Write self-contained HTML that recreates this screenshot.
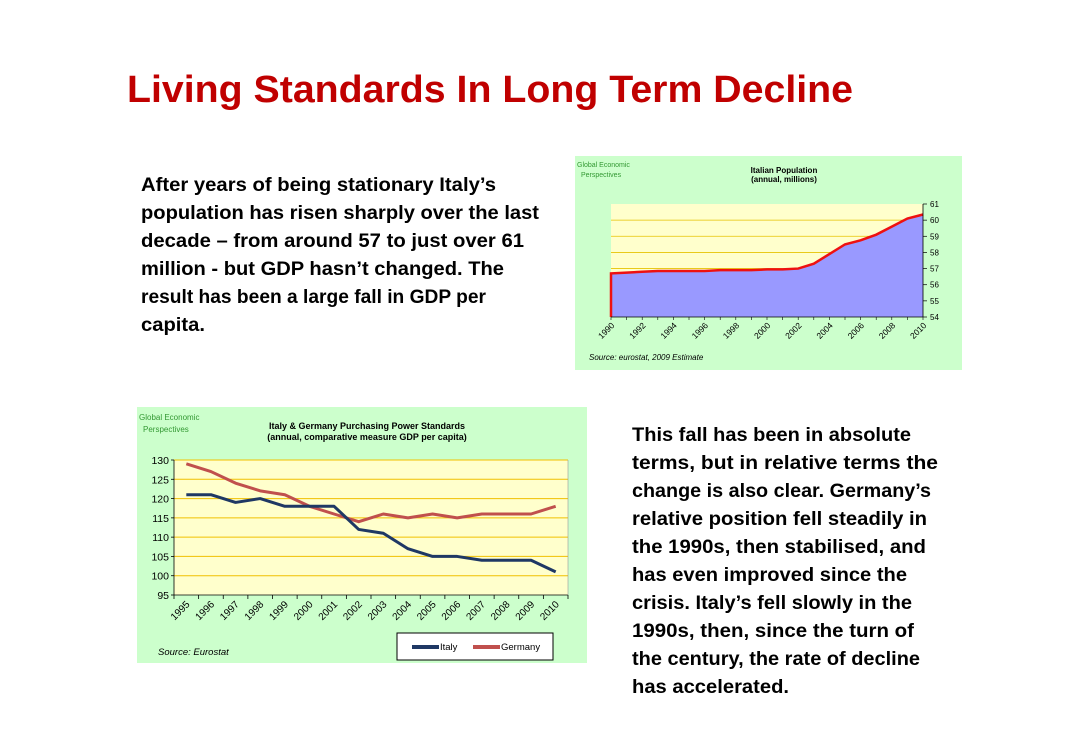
<!DOCTYPE html>
<html><head><meta charset="utf-8"><style>
html,body{margin:0;padding:0;background:#fff;}
svg{display:block;font-family:"Liberation Sans",sans-serif;}
</style></head><body>
<svg id="page" width="1082" height="756" viewBox="0 0 1082 756">
<text x="127" y="102" font-size="38" font-weight="bold" fill="#c00000" textLength="726" lengthAdjust="spacingAndGlyphs">Living Standards In Long Term Decline</text>
<g font-size="19" font-weight="bold" fill="#000">
<text x="141" y="191" textLength="355" lengthAdjust="spacingAndGlyphs">After years of being stationary Italy’s</text>
<text x="141" y="219" textLength="398" lengthAdjust="spacingAndGlyphs">population has risen sharply over the last</text>
<text x="141" y="247" textLength="383" lengthAdjust="spacingAndGlyphs">decade – from around 57 to just over 61</text>
<text x="141" y="275" textLength="363" lengthAdjust="spacingAndGlyphs">million - but GDP hasn’t changed. The</text>
<text x="141" y="303" textLength="345" lengthAdjust="spacingAndGlyphs">result has been a large fall in GDP per</text>
<text x="141" y="331" textLength="64" lengthAdjust="spacingAndGlyphs">capita.</text>
</g>
<g font-size="19" font-weight="bold" fill="#000">
<text x="632" y="441" textLength="279" lengthAdjust="spacingAndGlyphs">This fall has been in absolute</text>
<text x="632" y="469" textLength="306" lengthAdjust="spacingAndGlyphs">terms,  but in relative terms the</text>
<text x="632" y="497" textLength="299" lengthAdjust="spacingAndGlyphs">change is also clear. Germany’s</text>
<text x="632" y="525" textLength="295" lengthAdjust="spacingAndGlyphs">relative position fell steadily in</text>
<text x="632" y="553" textLength="294" lengthAdjust="spacingAndGlyphs">the 1990s, then stabilised, and</text>
<text x="632" y="581" textLength="275" lengthAdjust="spacingAndGlyphs">has even improved since the</text>
<text x="632" y="609" textLength="280" lengthAdjust="spacingAndGlyphs">crisis. Italy’s fell slowly in the</text>
<text x="632" y="637" textLength="282" lengthAdjust="spacingAndGlyphs">1990s, then, since the turn of</text>
<text x="632" y="665" textLength="288" lengthAdjust="spacingAndGlyphs">the century, the rate of decline</text>
<text x="632" y="693" textLength="157" lengthAdjust="spacingAndGlyphs">has accelerated.</text>
</g>

<g>
<rect x="575" y="156" width="387" height="214" fill="#ccffcc"/>
<text x="577" y="167" font-size="7" fill="#339933">Global Economic</text>
<text x="581" y="177" font-size="7" fill="#339933">Perspectives</text>
<text x="784" y="173" font-size="8" font-weight="bold" text-anchor="middle">Italian Population</text>
<text x="784" y="182" font-size="8" font-weight="bold" text-anchor="middle">(annual, millions)</text>
<rect x="611" y="204" width="312" height="113" fill="#ffffcc"/>
<g id="popGrid"></g>
<g id="popMarks"></g>
<g id="popAxes"></g>
<text x="589" y="360" font-size="8" font-style="italic">Source: eurostat, 2009 Estimate</text>
</g>

<g>
<rect x="137" y="407" width="450" height="256" fill="#ccffcc"/>
<text x="139" y="420" font-size="8" fill="#339933">Global Economic</text>
<text x="143" y="432" font-size="8" fill="#339933">Perspectives</text>
<text x="367" y="429" font-size="9" font-weight="bold" text-anchor="middle">Italy &amp; Germany Purchasing Power Standards</text>
<text x="367" y="440" font-size="9" font-weight="bold" text-anchor="middle">(annual,  comparative measure GDP per capita)</text>
<rect x="174" y="460" width="394" height="135" fill="#ffffcc"/>
<g id="ppsGrid"></g>
<g id="ppsMarks"></g>
<g id="ppsAxes"></g>
<text x="158" y="655" font-size="9.5" font-style="italic">Source: Eurostat</text>
<g>
<rect x="397" y="633" width="156" height="27" fill="#fff" stroke="#000" stroke-width="1"/>
<line x1="412" y1="647" x2="439" y2="647" stroke="#1f3864" stroke-width="4"/>
<text x="440" y="650" font-size="9.5">Italy</text>
<line x1="473" y1="647" x2="500" y2="647" stroke="#c0504d" stroke-width="4"/>
<text x="501" y="650" font-size="9.5">Germany</text>
</g>
</g>
</svg>
<script>
const popYears = ["1990","1991","1992","1993","1994","1995","1996","1997","1998","1999","2000","2001","2002","2003","2004","2005","2006","2007","2008","2009","2010"];
const popValues = [56.7,56.75,56.8,56.85,56.85,56.85,56.85,56.9,56.9,56.9,56.95,56.95,57.0,57.3,57.9,58.5,58.75,59.1,59.6,60.1,60.35];
const popTicks = [54,55,56,57,58,59,60,61];
const popLabelYears = ["1990","1992","1994","1996","1998","2000","2002","2004","2006","2008","2010"];

const ppsYears = ["1995","1996","1997","1998","1999","2000","2001","2002","2003","2004","2005","2006","2007","2008","2009","2010"];
const italyValues = [121,121,119,120,118,118,118,112,111,107,105,105,104,104,104,101];
const germanyValues = [129,127,124,122,121,118,116,114,116,115,116,115,116,116,116,118];
const ppsTicks = [95,100,105,110,115,120,125,130];

const NS = "http://www.w3.org/2000/svg";
function mk(parent, tag, attrs, txt){const e=document.createElementNS(NS,tag);for(const k in attrs)e.setAttribute(k,attrs[k]);if(txt!==undefined)e.textContent=txt;parent.appendChild(e);return e;}

(function(){
  const x0=611,x1=923,yT=204,yB=317,vmin=54,vmax=61;
  const px=i=>x0+(x1-x0)*i/(popYears.length-1);
  const py=v=>yB-(v-vmin)/(vmax-vmin)*(yB-yT);
  const grid=document.getElementById('popGrid'),marks=document.getElementById('popMarks'),axes=document.getElementById('popAxes');
  popTicks.forEach(t=>{
    if(t>vmin&&t<vmax){const g=mk(grid,'line',{x1:x0,x2:x1,y1:py(t),y2:py(t),stroke:'#e6c200','stroke-width':0.8});
    
    }
    const l=mk(axes,'text',{x:x1+7,y:py(t)+3,'font-size':8},String(t));
    
    
    mk(axes,'line',{x1:x1,x2:x1+4,y1:py(t),y2:py(t),stroke:'#000','stroke-width':0.7});
  });
  let d='M'+px(0)+','+yB;
  popValues.forEach((v,i)=>{d+=' L'+px(i)+','+py(v);});
  const area=mk(marks,'path',{d:d+' L'+x1+','+yB+' Z',fill:'#9999ff'});
  
  
  const ln=mk(marks,'path',{d:d,fill:'none',stroke:'#ee1111','stroke-width':2.5});
  
  
  mk(axes,'line',{x1:x1,x2:x1,y1:yT,y2:yB,stroke:'#000','stroke-width':0.8});
  mk(axes,'line',{x1:x0,x2:x1,y1:yB,y2:yB,stroke:'#000','stroke-width':0.8});
  popYears.forEach((y,i)=>{mk(axes,'line',{x1:px(i),x2:px(i),y1:yB,y2:yB+3,stroke:'#000','stroke-width':0.6});});
  popLabelYears.forEach(y=>{
    const i=popYears.indexOf(y);const x=px(i)+4,yy=yB+9;
    const t=mk(axes,'text',{x:x,y:yy,'font-size':8.5,'text-anchor':'end',transform:'rotate(-45 '+x+' '+yy+')'},y);
    
    
  });
})();

(function(){
  const x0=174,x1=568,yT=460,yB=595,vmin=95,vmax=130;
  const bw=(x1-x0)/ppsYears.length;
  const px=i=>x0+bw*(i+0.5);
  const py=v=>yB-(v-vmin)/(vmax-vmin)*(yB-yT);
  const grid=document.getElementById('ppsGrid'),marks=document.getElementById('ppsMarks'),axes=document.getElementById('ppsAxes');
  ppsTicks.forEach(t=>{
    if(t>vmin){const g=mk(grid,'line',{x1:x0,x2:x1,y1:py(t),y2:py(t),stroke:'#f0c000','stroke-width':1});
    
    }
    const l=mk(axes,'text',{x:x0-5,y:py(t)+4,'font-size':10.5,'text-anchor':'end'},String(t));
    
    
    mk(axes,'line',{x1:x0-3,x2:x0,y1:py(t),y2:py(t),stroke:'#000','stroke-width':0.8});
  });
  mk(axes,'line',{x1:x0,x2:x0,y1:yT,y2:yB,stroke:'#000','stroke-width':0.8});
  mk(axes,'line',{x1:x0,x2:x1,y1:yB,y2:yB,stroke:'#000','stroke-width':0.8});
  mk(axes,'line',{x1:x1,x2:x1,y1:yT,y2:yB,stroke:'#999','stroke-width':0.6});
  for(let i=0;i<=ppsYears.length;i++)mk(axes,'line',{x1:x0+bw*i,x2:x0+bw*i,y1:yB,y2:yB+4,stroke:'#000','stroke-width':0.8});
  ppsYears.forEach((y,i)=>{
    const x=px(i)+4,yy=yB+10;
    const t=mk(axes,'text',{x:x,y:yy,'font-size':10,'text-anchor':'end',transform:'rotate(-45 '+x+' '+yy+')'},y);
    
    
  });
  const series=[[germanyValues,'#c0504d','germany-line'],[italyValues,'#1f3864','italy-line']];
  series.forEach(s=>{
    const pts=s[0].map((v,i)=>px(i)+','+py(v)).join(' ');
    const p=mk(marks,'polyline',{points:pts,fill:'none',stroke:s[1],'stroke-width':3,'stroke-linejoin':'round'});
    
    
  });
})();
</script>
</body></html>
